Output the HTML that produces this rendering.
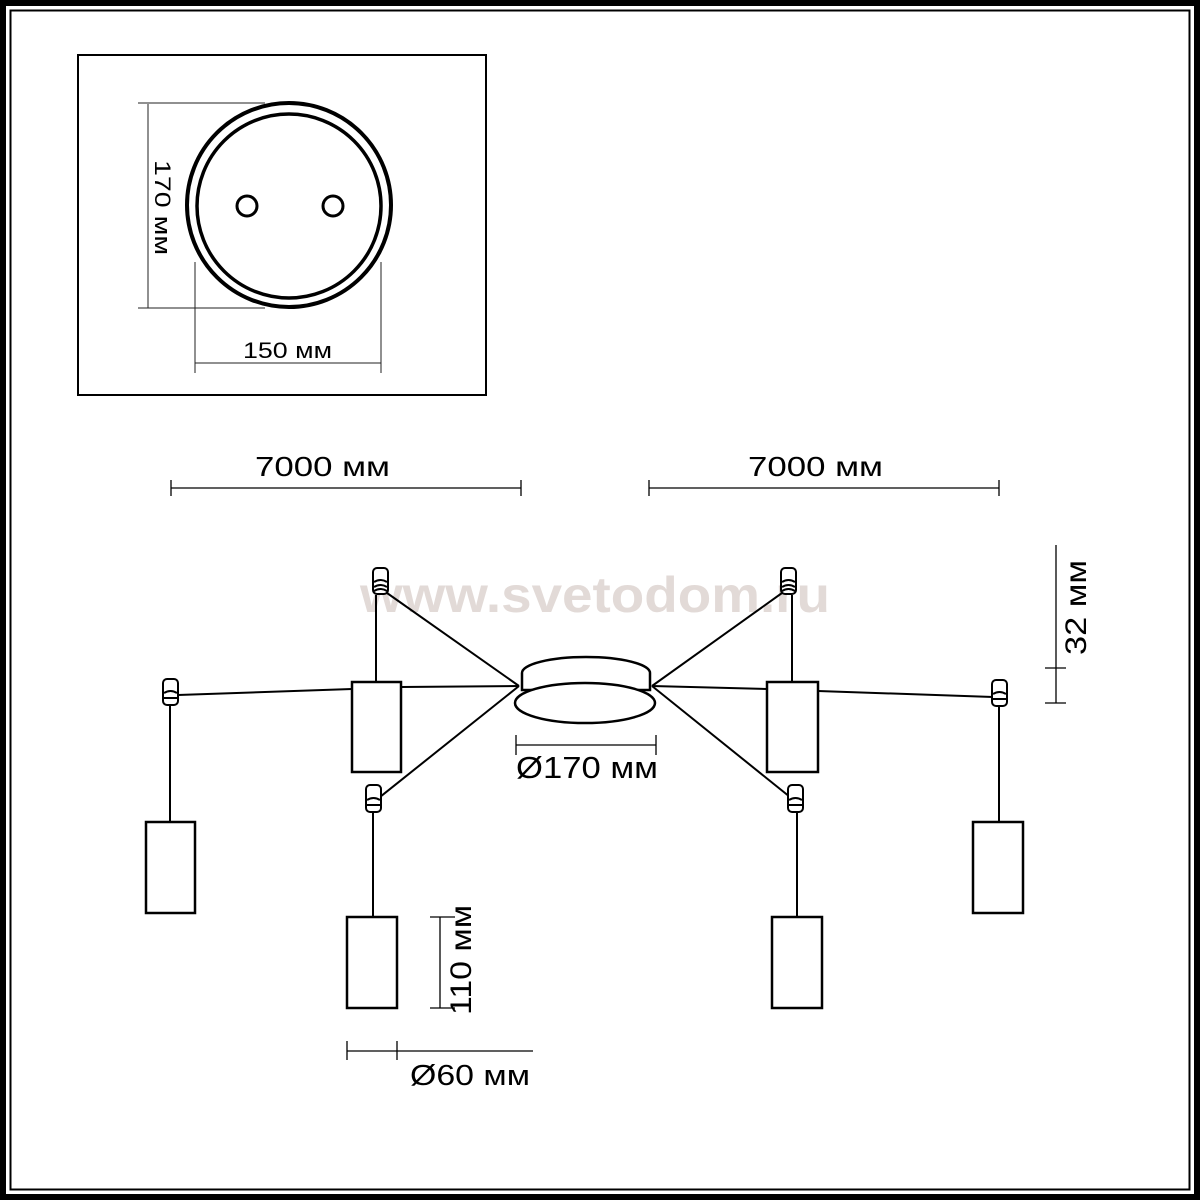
<!DOCTYPE html>
<html><head><meta charset="utf-8"><style>
html,body{margin:0;padding:0;background:#fff}
svg{display:block}
text{font-family:"Liberation Sans","DejaVu Sans",sans-serif;fill:#000}
</style></head><body>
<svg width="1200" height="1200" viewBox="0 0 1200 1200" xmlns="http://www.w3.org/2000/svg">
<rect x="3" y="3" width="1194" height="1194" fill="none" stroke="#000" stroke-width="6"/>
<rect x="10.5" y="10.5" width="1179" height="1179" fill="none" stroke="#000" stroke-width="2"/>

<text x="360" y="612" font-size="50" font-weight="bold" textLength="470" lengthAdjust="spacingAndGlyphs" style="fill:#e2dad7">www.svetodom.ru</text>

<!-- top box -->
<rect x="78" y="55" width="408" height="340" fill="none" stroke="#000" stroke-width="2"/>
<circle cx="289" cy="205" r="102" fill="none" stroke="#000" stroke-width="4"/>
<circle cx="289" cy="206" r="92" fill="none" stroke="#000" stroke-width="3.5"/>
<circle cx="247" cy="206" r="10" fill="none" stroke="#000" stroke-width="3"/>
<circle cx="333" cy="206" r="10" fill="none" stroke="#000" stroke-width="3"/>
<g stroke="#222" stroke-width="1" fill="none">
<line x1="148" y1="104" x2="148" y2="308"/>
<line x1="138" y1="103" x2="265" y2="103"/>
<line x1="138" y1="308" x2="265" y2="308"/>
<line x1="195" y1="262" x2="195" y2="373"/>
<line x1="381" y1="262" x2="381" y2="373"/>
<line x1="195" y1="363" x2="381" y2="363"/>
</g>
<text x="243" y="358" font-size="22" textLength="89" lengthAdjust="spacingAndGlyphs">150 мм</text>
<text transform="translate(155,160) rotate(90)" font-size="22" textLength="95" lengthAdjust="spacingAndGlyphs">170 мм</text>

<!-- dims -->
<g stroke="#000" stroke-width="1.3" fill="none">
<line x1="171" y1="488" x2="521" y2="488"/><line x1="171" y1="480" x2="171" y2="496"/><line x1="521" y1="480" x2="521" y2="496"/>
<line x1="649" y1="488" x2="999" y2="488"/><line x1="649" y1="480" x2="649" y2="496"/><line x1="999" y1="480" x2="999" y2="496"/>
<line x1="1056" y1="545" x2="1056" y2="703"/><line x1="1045" y1="668" x2="1066" y2="668"/><line x1="1045" y1="703" x2="1066" y2="703"/>
<line x1="516" y1="745" x2="656" y2="745"/><line x1="516" y1="735" x2="516" y2="755"/><line x1="656" y1="735" x2="656" y2="755"/>
<line x1="440" y1="917" x2="440" y2="1008"/><line x1="430" y1="917" x2="455" y2="917"/><line x1="430" y1="1008" x2="455" y2="1008"/>
<line x1="347" y1="1051" x2="533" y2="1051"/><line x1="347" y1="1041" x2="347" y2="1060"/><line x1="397" y1="1041" x2="397" y2="1060"/>
</g>
<text x="255" y="476" font-size="28" textLength="135" lengthAdjust="spacingAndGlyphs">7000 мм</text>
<text x="748" y="476" font-size="28" textLength="135" lengthAdjust="spacingAndGlyphs">7000 мм</text>
<text transform="translate(1086,655) rotate(-90)" font-size="30" textLength="95" lengthAdjust="spacingAndGlyphs">32 мм</text>
<text x="516" y="778" font-size="31" textLength="142" lengthAdjust="spacingAndGlyphs">Ø170 мм</text>
<text transform="translate(471,1015) rotate(-90)" font-size="30" textLength="110" lengthAdjust="spacingAndGlyphs">110 мм</text>
<text x="410" y="1085" font-size="29" textLength="120" lengthAdjust="spacingAndGlyphs">Ø60 мм</text>

<!-- wires -->
<g stroke="#000" stroke-width="2" fill="none">
<line x1="519" y1="686" x2="387" y2="593"/>
<line x1="519" y1="686" x2="401" y2="687"/>
<line x1="352" y1="689" x2="178" y2="695"/>
<line x1="519" y1="686" x2="380" y2="797"/>
<line x1="376" y1="595" x2="376" y2="682"/>
<line x1="170" y1="705" x2="170" y2="822"/>
<line x1="373" y1="812" x2="373" y2="917"/>
<line x1="652" y1="686" x2="782" y2="593"/>
<line x1="652" y1="686" x2="767" y2="689"/>
<line x1="818" y1="691" x2="993" y2="697"/>
<line x1="652" y1="686" x2="790" y2="797"/>
<line x1="792" y1="595" x2="792" y2="682"/>
<line x1="999" y1="706" x2="999" y2="822"/>
<line x1="797" y1="812" x2="797" y2="917"/>
</g>

<!-- canopy -->
<g stroke="#000" stroke-width="2.5" fill="#fff">
<path d="M522 690 L522 673 A64 16 0 0 1 650 673 L650 690 Z"/>
<ellipse cx="585" cy="703" rx="70" ry="20"/>
</g>

<!-- pendants -->
<g stroke="#000" stroke-width="2.5" fill="#fff">
<rect x="352" y="682" width="49" height="90"/>
<rect x="767" y="682" width="51" height="90"/>
<rect x="146" y="822" width="49" height="91"/>
<rect x="973" y="822" width="50" height="91"/>
<rect x="347" y="917" width="50" height="91"/>
<rect x="772" y="917" width="50" height="91"/>
</g>

<!-- hooks -->
<g stroke="#000" stroke-width="2" fill="#fff">
<g transform="translate(373,568)"><rect x="0" y="0" width="15" height="26" rx="4"/><path d="M1 14 Q7.5 10 14 14 M1 19 Q7.5 15 14 19 M1 23 Q7.5 19 14 23" fill="none"/></g>
<g transform="translate(781,568)"><rect x="0" y="0" width="15" height="26" rx="4"/><path d="M1 14 Q7.5 10 14 14 M1 19 Q7.5 15 14 19 M1 23 Q7.5 19 14 23" fill="none"/></g>
<g transform="translate(163,679)"><rect x="0" y="0" width="15" height="26" rx="4"/><path d="M1 14 Q7.5 10 14 14 M1 19 L14 19" fill="none"/></g>
<g transform="translate(992,680)"><rect x="0" y="0" width="15" height="26" rx="4"/><path d="M1 14 Q7.5 10 14 14 M1 19 L14 19" fill="none"/></g>
<g transform="translate(366,785)"><rect x="0" y="0" width="15" height="27" rx="4"/><path d="M1 15 Q7.5 11 14 15 M1 20 L14 20" fill="none"/></g>
<g transform="translate(788,785)"><rect x="0" y="0" width="15" height="27" rx="4"/><path d="M1 15 Q7.5 11 14 15 M1 20 L14 20" fill="none"/></g>
</g>
</svg>
</body></html>
